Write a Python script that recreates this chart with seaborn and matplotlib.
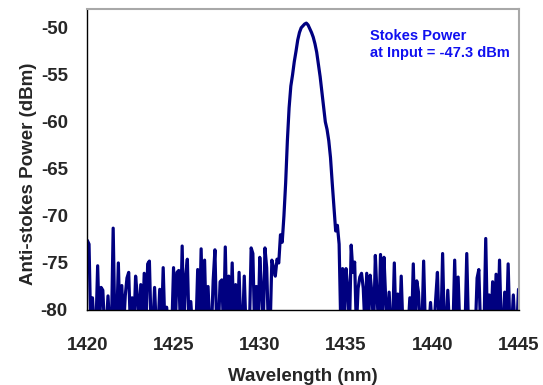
import numpy as np
import pandas as pd
import matplotlib
matplotlib.use("Agg")
import matplotlib.pyplot as plt
import seaborn as sns

# Spectrum sampled every 0.1 nm from 1420 to 1445 nm (values below -80 are off-scale)
wl_start = 1420.0
wl_step = 0.1
power = [
    -72.6, -73.0, -82.0, -78.7, -82.0, -82.0, -75.3, -82.0, -77.6, -77.9,   # 0-9
    -82.0, -82.0, -78.5, -82.0, -82.0, -71.3, -82.0, -82.0, -75.0, -82.0,   # 10-19
    -77.4, -82.0, -78.5, -76.6, -76.0, -82.0, -78.7, -82.0, -76.4, -78.5,   # 20-29
    -82.0, -77.3, -82.0, -76.1, -82.0, -75.1, -74.8, -82.0, -82.0, -77.6,   # 30-39
    -82.0, -82.0, -77.8, -82.0, -75.5, -82.0, -79.7, -82.0, -82.0, -82.0,   # 40-49
    -75.5, -82.0, -76.0, -75.8, -82.0, -73.2, -82.0, -76.5, -74.6, -82.0,   # 50-59
    -79.1, -82.0, -82.0, -82.0, -75.7, -82.0, -73.5, -82.0, -74.7, -82.0,   # 60-69
    -77.5, -82.0, -82.0, -76.8, -73.6, -82.0, -82.0, -77.0, -76.8, -82.0,   # 70-79
    -73.3, -82.0, -76.4, -82.0, -75.0, -82.0, -77.3, -82.0, -76.0, -82.0,   # 80-89
    -82.0, -76.4, -82.0, -82.0, -82.0, -73.4, -74.0, -82.0, -77.5, -82.0,   # 90-99
    -74.4, -78.0, -82.0, -73.4, -75.5, -82.0, -82.0, -74.7, -75.5, -76.4,   # 100-109
    -74.6, -75.0, -72.0, -72.8, -70.0, -66.5, -62.0, -58.5, -56.2, -55.0,   # 110-119
    -53.6, -52.5, -51.3, -50.5, -50.0, -49.8, -49.6, -49.5, -49.7, -50.1,   # 120-129
    -50.5, -51.0, -51.7, -52.6, -53.9, -55.2, -56.8, -58.3, -60.0, -60.8,   # 130-139
    -62.0, -63.8, -66.5, -69.0, -71.6, -71.0, -73.0, -82.0, -75.6, -82.0,   # 140-149
    -75.6, -77.7, -82.0, -73.1, -76.0, -74.9, -82.0, -77.7, -76.5, -76.1,   # 150-159
    -77.7, -82.0, -76.1, -82.0, -76.3, -78.2, -82.0, -74.2, -78.6, -82.0,   # 160-169
    -74.1, -82.0, -74.4, -78.8, -82.0, -78.1, -82.0, -82.0, -75.0, -82.0,   # 170-179
    -78.3, -82.0, -76.4, -82.0, -82.0, -82.0, -82.0, -78.7, -82.0, -75.1,   # 180-189
    -82.0, -76.9, -78.1, -82.0, -82.0, -74.8, -82.0, -82.0, -82.0, -79.2,   # 190-199
    -82.0, -82.0, -78.8, -76.0, -82.0, -82.0, -74.0, -82.0, -82.0, -77.9,   # 200-209
    -82.0, -82.0, -82.0, -74.7, -82.0, -76.5, -82.0, -82.0, -82.0, -82.0,   # 210-219
    -74.0, -82.0, -82.0, -82.0, -82.0, -82.0, -76.6, -75.7, -82.0, -82.0,   # 220-229
    -82.0, -72.4, -82.0, -78.4, -82.0, -77.0, -82.0, -76.2, -82.0, -74.7,   # 230-239
    -82.0, -82.0, -78.1, -82.0, -75.1, -82.0, -82.0, -78.4, -82.0, -82.0,   # 240-249
    -77.8,                                                                  # 250
]
wavelength = wl_start + wl_step * np.arange(len(power))

x_ticks = [1420, 1425, 1430, 1435, 1440, 1445]
y_ticks = [-80, -75, -70, -65, -60, -55, -50]
annotation = "Stokes Power\nat Input = -47.3 dBm"

df = pd.DataFrame({"Wavelength (nm)": wavelength, "Anti-stokes Power (dBm)": power})

sns.set_style("white")
plt.rcParams["font.family"] = ["Liberation Sans", "DejaVu Sans"]

fig = plt.figure(figsize=(5.43, 3.85), dpi=100)
ax = fig.add_axes([87.3 / 543, 1 - 310 / 385, (518.5 - 87.3) / 543, (310 - 9) / 385])

sns.lineplot(data=df, x="Wavelength (nm)", y="Anti-stokes Power (dBm)",
             color="#000080", linewidth=2.3, ax=ax, estimator=None, sort=False)
for line in ax.get_lines():
    line.set_solid_joinstyle("round")
    line.set_solid_capstyle("round")

ax.set_xlim(1420, 1445)
ax.set_ylim(-80, -48)
ax.set_xticks(x_ticks)
ax.set_yticks(y_ticks)
ax.set_xticklabels([str(t) for t in x_ticks], fontsize=13.5, fontweight="bold")
ax.set_yticklabels([str(t) for t in y_ticks], fontsize=13.5, fontweight="bold")
ax.tick_params(axis="x", direction="out", length=5, width=1, color="black", pad=14.5)
ax.tick_params(axis="y", direction="out", length=5, width=1, color="black", pad=9)

ax.set_xlabel("Wavelength (nm)", fontsize=13.5, fontweight="bold")
ax.set_ylabel("Anti-stokes Power (dBm)", fontsize=13.5, fontweight="bold")
ax.xaxis.set_label_coords(0.5, -0.193)
ax.yaxis.set_label_coords(-0.117, 0.452)

for side in ["left", "bottom"]:
    ax.spines[side].set_color("black")
    ax.spines[side].set_linewidth(1.0)
for side in ["top", "right"]:
    ax.spines[side].set_color("#a8a8a8")
    ax.spines[side].set_linewidth(1.5)

ax.text(0.656, 0.935, annotation, transform=ax.transAxes, ha="left", va="top",
        fontsize=10.5, fontweight="bold", color="#1010f0", linespacing=1.35)

fig.savefig("out.png", dpi=100, facecolor="white")
